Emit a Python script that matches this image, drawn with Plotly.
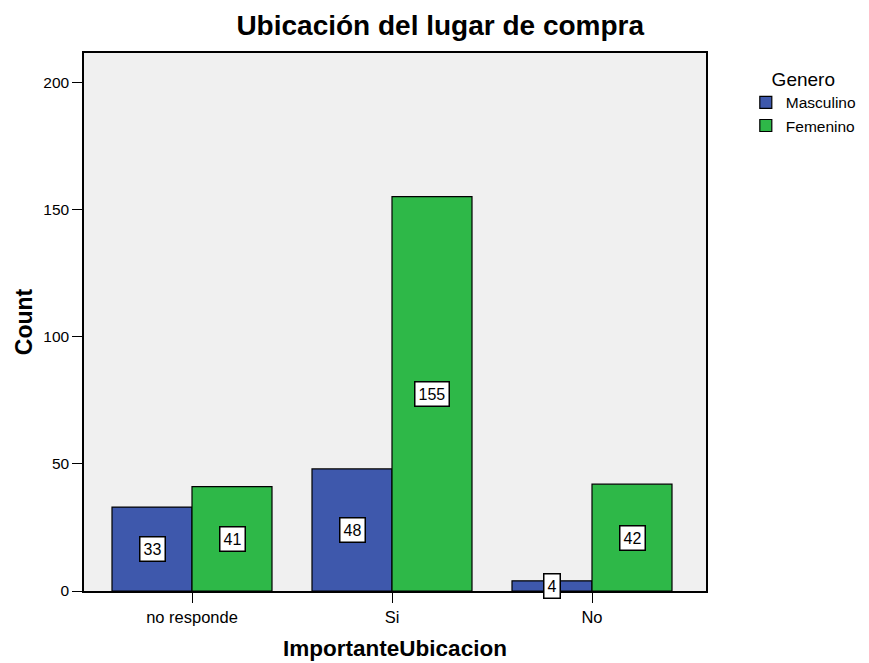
import plotly.graph_objects as go

categories = ["no responde", "Si", "No"]
masculino = [33, 48, 4]
femenino = [41, 155, 42]
series_names = ["Masculino", "Femenino"]
y_ticks = [0, 50, 100, 150, 200]

blue = "#3e58ac"
green = "#2eb848"

fig = go.Figure()
fig.add_trace(go.Bar(x=categories, y=masculino, name=series_names[0],
                     marker=dict(color=blue, line=dict(color="black", width=1.2))))
fig.add_trace(go.Bar(x=categories, y=femenino, name=series_names[1],
                     marker=dict(color=green, line=dict(color="black", width=1.2))))

annotations = []
for i, (m, f) in enumerate(zip(masculino, femenino)):
    for off, v in ((-0.2, m), (0.2, f)):
        annotations.append(dict(x=i + off, y=v / 2, xref="x", yref="y", text=str(v),
                                showarrow=False, bgcolor="white", bordercolor="black",
                                borderwidth=1.5, borderpad=3,
                                font=dict(family="Liberation Sans, Arial", size=16, color="black")))

# page body has an 8px margin, so the figure is sized/offset to compensate
fig.update_layout(
    width=861, height=655,
    paper_bgcolor="white", plot_bgcolor="#f0f0f0",
    margin=dict(l=76, r=163, t=45, b=72, autoexpand=False),
    barmode="group", bargap=0.2, bargroupgap=0,
    font=dict(family="Liberation Sans, Arial", color="black"),
    title=dict(text="<b>Ubicación del lugar de compra</b>", x=0.502, xanchor="center",
               yref="container", y=0.988, yanchor="top", font=dict(size=28, color="black")),
    legend=dict(title=dict(text="Genero", side="top center", font=dict(size=19)),
                x=1.064, y=0.985, xanchor="left", yanchor="top",
                font=dict(size=15.5), tracegroupgap=0, itemwidth=30),
    annotations=annotations,
    showlegend=True,
)
fig.update_xaxes(range=[-0.54, 2.57], showline=True, linecolor="black", linewidth=1.5,
                 mirror=True, ticks="outside", ticklen=10, tickcolor="black",
                 tickfont=dict(size=16.5), showgrid=False,
                 title=dict(text="<b>ImportanteUbicacion</b>", font=dict(size=22.5), standoff=16))
fig.update_yaxes(range=[0, 211.5], tickvals=y_ticks, showline=True, linecolor="black",
                 linewidth=1.5, mirror=True, ticks="outside", ticklen=10, tickcolor="black",
                 tickfont=dict(size=15.5), showgrid=False, zeroline=False,
                 title=dict(text="<b>Count</b>", font=dict(size=23), standoff=4))

fig.write_html("out.html")
